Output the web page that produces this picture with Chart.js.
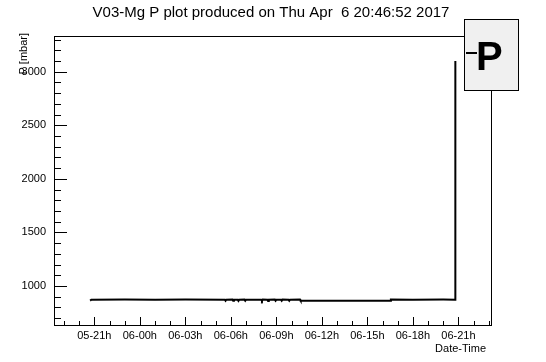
<!DOCTYPE html>
<html>
<head>
<meta charset="utf-8">
<script src="https://cdn.jsdelivr.net/npm/chart.js@4"></script>
<style>
  html, body { margin: 0; padding: 0; background: #fff; }
  #wrap { width: 546px; height: 362px; position: relative; }
</style>
</head>
<body>
<div id="wrap"><canvas id="myChart"></canvas></div>
<script>
// hours counted from 2017-04-05 00:00
const hours = [20.72, 20.8, 23, 25, 27, 29.6, 29.65, 29.7, 30.1, 30.15, 30.2, 30.45, 30.5, 30.55,
               30.9, 30.95, 31.0, 32.0, 32.05, 32.1, 32.4, 32.45, 32.5, 32.9, 32.95, 33.0,
               33.3, 33.35, 33.4, 33.8, 33.85, 33.9, 34.56, 34.6, 36, 38, 40, 40.5, 40.55,
               42, 44, 44.78, 44.8];
const pressures = [864, 872, 873, 872, 873, 872, 862, 872, 873, 862, 872, 872, 861, 872,
                   873, 862, 872, 872, 862, 873, 872, 861, 872, 873, 862, 872,
                   872, 862, 873, 872, 862, 872, 873, 863, 862, 863, 862, 863, 873,
                   872, 873, 872, 3100];

const xTickHours = [21, 24, 27, 30, 33, 36, 39, 42, 45];
const xTickLabels = ['05-21h', '06-00h', '06-03h', '06-06h', '06-09h', '06-12h', '06-15h', '06-18h', '06-21h'];
const yTickValues = [1000, 1500, 2000, 2500, 3000];

const titleText = 'V03-Mg P plot produced on Thu Apr  6 20:46:52 2017';
const FONT = '"Liberation Sans", Arial, Helvetica, sans-serif';

// ROOT style frame, inward ticks, legend box and titles
const rootFrame = {
    id: 'rootFrame',
    afterDraw(chart) {
        const ctx = chart.ctx;
        const a = chart.chartArea;
        const xs = chart.scales.x, ys = chart.scales.y;
        ctx.save();
        ctx.strokeStyle = '#000';
        ctx.lineWidth = 1;
        ctx.strokeRect(a.left + 0.5, a.top + 0.5, a.right - a.left, a.bottom - a.top);

        ctx.beginPath();
        for (let h = Math.ceil(xs.min); h <= Math.floor(xs.max); h++) {
            const px = Math.round(xs.getPixelForValue(h)) + 0.5;
            const len = h % 3 === 0 ? 8 : 4;
            ctx.moveTo(px, a.bottom);
            ctx.lineTo(px, a.bottom - len);
        }
        for (let v = Math.ceil(ys.min / 100) * 100; v <= ys.max; v += 100) {
            const py = Math.round(ys.getPixelForValue(v)) + 0.5;
            const len = v % 500 === 0 ? 13 : 7;
            ctx.moveTo(a.left, py);
            ctx.lineTo(a.left + len, py);
        }
        ctx.stroke();

        // legend box
        ctx.fillStyle = '#f0f0f0';
        ctx.fillRect(464, 19, 55, 71);
        ctx.strokeRect(464.5, 19.5, 54, 71);
        ctx.lineWidth = 2;
        ctx.beginPath();
        ctx.moveTo(466, 53);
        ctx.lineTo(477, 53);
        ctx.stroke();
        ctx.fillStyle = '#000';
        ctx.font = 'bold 40px ' + FONT;
        ctx.textAlign = 'left';
        ctx.textBaseline = 'alphabetic';
        ctx.fillText('P', 476, 70);

        // titles
        ctx.font = '15px ' + FONT;
        ctx.textAlign = 'center';
        ctx.fillText(titleText, 271, 17);

        ctx.font = '11px ' + FONT;
        ctx.textAlign = 'right';
        ctx.fillText('Date-Time', 486, 352);

        ctx.translate(27, 33);
        ctx.rotate(-Math.PI / 2);
        ctx.textAlign = 'right';
        ctx.fillText('P [mbar]', 0, 0);
        ctx.restore();
    }
};

const ctx = document.getElementById('myChart').getContext('2d');
const myChart = new Chart(ctx, {
    type: 'line',
    data: {
        datasets: [{
            label: 'P',
            data: hours.map((h, i) => ({ x: h, y: pressures[i] })),
            borderColor: '#000',
            borderWidth: 2,
            pointRadius: 0,
            tension: 0,
            fill: false
        }]
    },
    options: {
        responsive: true,
        maintainAspectRatio: false,
        animation: false,
        layout: { padding: { top: 36, right: 55, left: 0, bottom: 0 } },
        plugins: {
            legend: { display: false },
            title: { display: false },
            tooltip: { enabled: false }
        },
        scales: {
            x: {
                type: 'linear',
                min: 18.34,
                max: 47.15,
                afterBuildTicks: (s) => { s.ticks = xTickHours.map(v => ({ value: v })); },
                afterFit: (s) => { s.height = 37; },
                grid: { display: false, drawTicks: false },
                border: { display: false },
                ticks: {
                    autoSkip: false,
                    maxRotation: 0,
                    padding: 4,
                    color: '#000',
                    font: { family: FONT, size: 11 },
                    callback: (v) => xTickLabels[xTickHours.indexOf(v)] ?? ''
                }
            },
            y: {
                type: 'linear',
                min: 636,
                max: 3333,
                afterBuildTicks: (s) => { s.ticks = yTickValues.map(v => ({ value: v })); },
                afterFit: (s) => { s.width = 54; },
                grid: { display: false, drawTicks: false },
                border: { display: false },
                ticks: {
                    autoSkip: false,
                    padding: 8,
                    color: '#000',
                    font: { family: FONT, size: 11 },
                    callback: (v) => String(v)
                }
            }
        }
    },
    plugins: [rootFrame]
});
</script>
</body>
</html>
